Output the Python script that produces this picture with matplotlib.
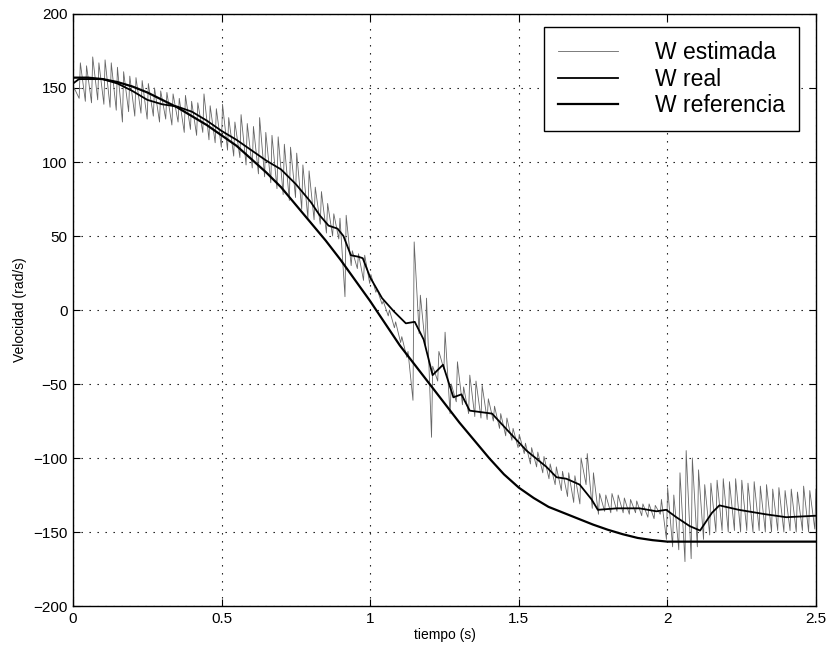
import numpy as np
import matplotlib
matplotlib.use("Agg")
import matplotlib.pyplot as plt

plt.rcParams['font.family'] = ['Liberation Sans', 'DejaVu Sans']

# W referencia, read every 0.05 s up to 2 s, then flat
ref_t = list(np.round(np.arange(0, 2.001, 0.05), 2)) + [2.5]
ref_v = [157, 157, 156, 154, 151, 147, 142, 137, 131, 125,
         118, 111, 102, 93, 83, 71, 59, 47, 34, 20,
         6, -9, -24, -37, -50, -63, -76, -88, -100, -111,
         -120, -127, -133, -137, -141, -145, -148.5, -151.5, -154, -155.5,
         -156.5, -156.5]

# W real
real_t = [0.0, 0.02, 0.1, 0.15, 0.2, 0.25, 0.3, 0.35, 0.4, 0.45,
          0.5, 0.55, 0.6, 0.65, 0.7, 0.75, 0.8, 0.83, 0.86, 0.89,
          0.91, 0.935, 0.96, 0.975, 1.0, 1.04, 1.08, 1.12, 1.15, 1.18,
          1.21, 1.245, 1.28, 1.307, 1.335, 1.41, 1.47, 1.526, 1.593, 1.627,
          1.66, 1.705, 1.745, 1.766, 1.83, 1.906, 1.963, 1.996, 2.03, 2.075,
          2.11, 2.15, 2.175, 2.24, 2.33, 2.40, 2.5]
real_v = [153, 156, 156, 153, 148, 142, 139, 137.5, 134, 128,
          121, 115, 108, 101, 95, 85, 73, 64, 57, 55,
          50, 37, 36, 35, 22, 8, -1, -9, -8, -20,
          -44, -37, -59, -57, -68, -70, -83, -95, -106, -113,
          -114, -118, -128, -135, -134, -134, -136, -135, -140, -146,
          -149, -137, -132, -135, -138, -140, -139]

# W estimada: one tooth per sample period, peak and trough of each tooth
est_period = 0.0208
est_rise = 0.004
est_hi = [150, 167, 165, 171, 167, 169, 167, 164, 161, 158,
          157, 155, 153, 150, 148, 147, 146, 143, 145, 141,
          140, 146, 138, 136, 139, 130, 127, 132, 126, 124,
          130, 120, 118, 117, 112, 110, 106, 98, 94, 83,
          80, 72, 65, 62, 64, 40, 38, 37, 24, 14,
          6, 0, -8, -18, -28, 46, 10, 8, -38, -28,
          -15, -50, -35, -52, -44, -48, -51, -60, -65, -70,
          -73, -80, -84, -90, -93, -96, -99, -104, -106, -109,
          -110, -112, -100, -97, -110, -124, -125, -124, -125, -127,
          -128, -129, -131, -131, -132, -128, -120, -125, -110, -95,
          -100, -108, -118, -117, -115, -114, -116, -114, -115, -117,
          -116, -119, -118, -121, -120, -122, -121, -123, -119, -122, -121]
est_lo = [146, 143, 141, 140, 142, 139, 137, 135, 127, 134,
          131, 133, 129, 131, 127, 129, 125, 127, 120, 122,
          118, 120, 115, 113, 110, 108, 104, 103, 98, 96,
          92, 90, 86, 82, 78, 74, 76, 68, 62, 61,
          58, 52, 50, 48, 9, 30, 28, 20, 18, 12,
          4, -4, -12, -22, -32, -61, -16, -24, -86, -48,
          -40, -70, -62, -64, -70, -72, -73, -74, -75, -80,
          -85, -88, -93, -97, -104, -106, -110, -114, -118, -122,
          -126, -130, -131, -118, -134, -138, -136, -137, -136, -137,
          -138, -137, -139, -140, -141, -138, -155, -160, -162, -170,
          -168, -160, -155, -152, -150, -149, -150, -149, -150, -149,
          -150, -149, -150, -150, -149, -150, -149, -150, -149, -150, -148]

est_t0 = np.arange(len(est_hi)) * est_period
est_t = np.column_stack([est_t0, est_t0 + est_rise]).ravel()
est_v = np.column_stack([est_lo, est_hi]).ravel()

fig = plt.figure(figsize=(8.34, 6.51), dpi=100)
ax = fig.add_axes([0.0875, 0.0691, 0.8909, 0.9094])

ax.plot(est_t, est_v, color='0.4', lw=0.6, label='W estimada')
ax.plot(real_t, real_v, color='black', lw=1.3, label='W real')
ax.plot(ref_t, ref_v, color='black', lw=1.6, label='W referencia')

ax.set_xlim(0, 2.5)
ax.set_ylim(-200, 200)
ax.set_xticks([0, 0.5, 1, 1.5, 2, 2.5])
ax.set_xticklabels(['0', '0.5', '1', '1.5', '2', '2.5'])
ax.set_yticks(np.arange(-200, 201, 50))
ax.tick_params(direction='in', top=True, right=True, length=5, width=0.8,
               labelsize=11, pad=4)
ax.grid(True, color='black', lw=0.8, linestyle=(0, (1.2, 6)))
for s in ax.spines.values():
    s.set_linewidth(1.0)

ax.set_xlabel('tiempo (s)', fontsize=10, labelpad=2)
ax.set_ylabel('Velocidad (rad/s)', fontsize=10, labelpad=4)

leg = ax.legend(loc='upper right', bbox_to_anchor=(0.977, 0.978), borderaxespad=0,
                fontsize=16.5, handlelength=2.6, handletextpad=1.6,
                labelspacing=0.15, borderpad=0.62, fancybox=False, framealpha=1)
leg.get_frame().set_edgecolor('black')
leg.get_frame().set_linewidth(1.0)

fig.savefig('out.png', dpi=100)
